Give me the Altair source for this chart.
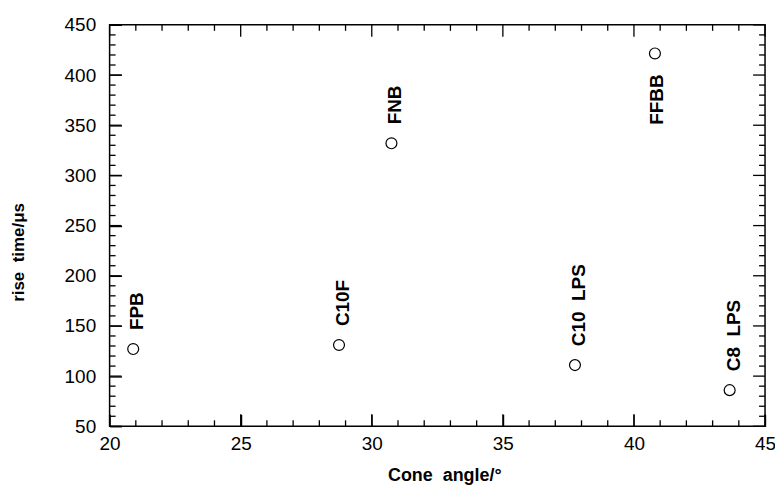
import altair as alt
import pandas as pd

# ---- data ----
cone_angle = [20.9, 28.75, 30.75, 37.75, 40.8, 43.65]
rise_time = [127, 131, 332, 111, 421.5, 86]
labels = ["FPB", "C10F", "FNB", "C10\u00a0\u00a0LPS", "FFBB", "C8\u00a0\u00a0LPS"]
labels_below = ["FFBB"]

x_major = [20, 25, 30, 35, 40, 45]
x_minor = [21, 22, 23, 24, 26, 27, 28, 29, 31, 32, 33, 34, 36, 37, 38, 39, 41, 42, 43, 44]
y_major = [50, 100, 150, 200, 250, 300, 350, 400, 450]
y_minor = [60, 70, 80, 90, 110, 120, 130, 140, 160, 170, 180, 190, 210, 220, 230, 240,
           260, 270, 280, 290, 310, 320, 330, 340, 360, 370, 380, 390, 410, 420, 430, 440]

W, H = 658, 403
FONT = "Liberation Sans"
MAJ, MIN = 12, 6

df = pd.DataFrame({"angle": cone_angle, "rise": rise_time, "label": labels})
xmaj = pd.DataFrame({"angle": x_major})
xmin = pd.DataFrame({"angle": x_minor})
ymaj = pd.DataFrame({"rise": y_major})
ymin = pd.DataFrame({"rise": y_minor})


def xs():
    return alt.Scale(domain=[20, 45], nice=False, zero=False)


def ys():
    return alt.Scale(domain=[50, 450], nice=False, zero=False)


tick_style = dict(ticks=True, tickColor="#000000", tickOpacity=1, tickWidth=1.3,
                  domain=False, grid=False, zindex=2)

x_axis = alt.Axis(
    orient="bottom", values=x_major, format="d", tickSize=MAJ, offset=-MAJ, **tick_style,
    labelFont=FONT, labelFontSize=19, labelColor="black", labelPadding=8, labelFlush=False,
    titleFont=FONT, titleFontSize=18, titleFontWeight="bold", titleColor="black",
    titleX=336, titleY=49 + MAJ, titleAlign="center", titleBaseline="middle")
y_axis = alt.Axis(
    orient="left", values=y_major, format="d", tickSize=MAJ, offset=-MAJ, **tick_style,
    labelFont=FONT, labelFontSize=19, labelColor="black", labelPadding=14, labelFlush=False,
    titleFont=FONT, titleFontSize=17, titleFontWeight="bold", titleColor="black",
    titleAngle=270, titleX=-91 - MAJ, titleY=228, titleAlign="center", titleBaseline="middle")

MX = alt.X("angle:Q", scale=xs(), axis=x_axis, title="Cone\u00a0\u00a0angle/°")
MY = alt.Y("rise:Q", scale=ys(), axis=y_axis, title="rise\u00a0\u00a0time/μs")

points = alt.Chart(df).mark_point(
    shape="circle", filled=False, size=120, color="black", strokeWidth=1.2, opacity=1
).encode(x=MX, y=MY)

text_style = dict(font=FONT, fontSize=19, fontWeight="bold", color="black", angle=270, baseline="middle")
above = alt.Chart(df).transform_filter(
    "indexof(%s, datum.label) < 0" % str(labels_below)
).mark_text(align="left", dx=19, dy=4, **text_style).encode(x=MX, y=MY, text="label:N")
below = alt.Chart(df).transform_filter(
    "indexof(%s, datum.label) >= 0" % str(labels_below)
).mark_text(align="right", dx=-21, dy=2, **text_style).encode(x=MX, y=MY, text="label:N")


# inward frame ticks drawn as tick marks (filled rects) on all four sides
def xticks(data, length):
    common = dict(color="black", opacity=1, thickness=1.3, size=length, orient="vertical")
    bottom = alt.Chart(data).mark_tick(**common).encode(x=MX, y=alt.value(H - length / 2))
    top = alt.Chart(data).mark_tick(**common).encode(x=MX, y=alt.value(length / 2))
    return [bottom, top]


def yticks(data, length):
    common = dict(color="black", opacity=1, thickness=1.3, size=length, orient="horizontal")
    left = alt.Chart(data).mark_tick(**common).encode(y=MY, x=alt.value(length / 2))
    right = alt.Chart(data).mark_tick(**common).encode(y=MY, x=alt.value(W - length / 2))
    return [left, right]


frame_ticks = xticks(xmaj, MAJ) + xticks(xmin, MIN) + yticks(ymaj, MAJ) + yticks(ymin, MIN)

chart = alt.layer(*frame_ticks, points, above, below).properties(
    width=W, height=H,
    padding={"left": 102, "top": 16, "right": 10, "bottom": 60},
    autosize=alt.AutoSizeParams(type="none"),
    background="white",
).configure_view(stroke="black", strokeWidth=1.5)

chart.save("out.html", embed_options={"renderer": "svg", "actions": False})
